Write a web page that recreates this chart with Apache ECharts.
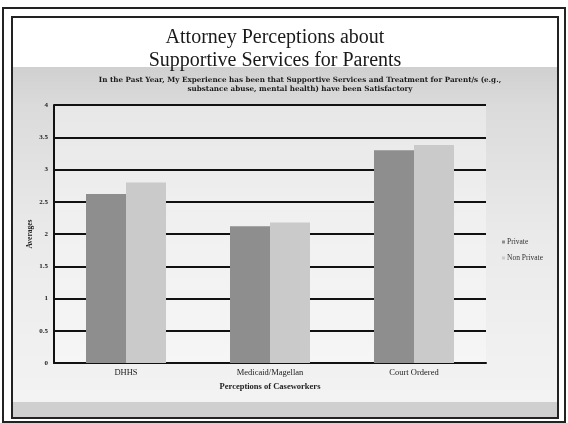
<!DOCTYPE html>
<html><head><meta charset="utf-8">
<script src="https://cdn.jsdelivr.net/npm/echarts@6/dist/echarts.min.js"></script>
<style>html,body{margin:0;padding:0;background:#fff;}#c{width:568px;height:423px;}</style>
</head><body><div id="c"></div>
<script>
var categories = ["DHHS", "Medicaid/Magellan", "Court Ordered"];
var privateValues = [2.62, 2.12, 3.30];
var nonPrivateValues = [2.80, 2.18, 3.38];
var yTicks = ["0", "0.5", "1", "1.5", "2", "2.5", "3", "3.5", "4"];

var chart = echarts.init(document.getElementById('c'), null, {renderer: 'canvas'});
var serif = '"Liberation Serif", "DejaVu Serif", serif';
var serif2 = '"DejaVu Serif", "Liberation Serif", serif';
chart.setOption({
  animation: false,
  backgroundColor: '#ffffff',
  graphic: [
    {type: 'rect', shape: {x: 12, y: 67, width: 546, height: 335}, z: -10,
      style: {fill: {type: 'linear', x: 0, y: 0, x2: 0, y2: 1, colorStops: [
        {offset: 0, color: '#d0d0d0'}, {offset: 0.12, color: '#dbdbdb'}, {offset: 0.5, color: '#eaeaea'}, {offset: 1, color: '#f3f3f3'}]}}},
    {type: 'rect', shape: {x: 54, y: 105, width: 432, height: 258}, z: -9, style: {fill: 'rgba(255,255,255,0.35)'}},
    {type: 'rect', shape: {x: 12, y: 402, width: 546, height: 15}, z: -10, style: {fill: '#cfcfcf'}},
    {type: 'rect', shape: {x: 3, y: 8, width: 562, height: 414}, style: {fill: 'none', stroke: '#222', lineWidth: 2}},
    {type: 'rect', shape: {x: 12, y: 17, width: 546, height: 401}, style: {fill: 'none', stroke: '#222', lineWidth: 2}}
  ],
  title: [
    {text: 'Attorney Perceptions about\nSupportive Services for Parents', left: 270, top: 21, textAlign: 'center',
      textStyle: {fontFamily: serif, fontSize: 20, fontWeight: 'normal', color: '#1a1a1a', lineHeight: 23}},
    {text: 'In the Past Year, My Experience has been that Supportive Services and Treatment for Parent/s (e.g.,\nsubstance abuse, mental health) have been Satisfactory', left: 295, top: 71, textAlign: 'center',
      textStyle: {fontFamily: serif2, fontSize: 7.2, fontWeight: 'bold', color: '#1a1a1a', lineHeight: 9}}
  ],
  legend: {
    orient: 'vertical', left: 497, top: 233, itemWidth: 3, itemHeight: 3, itemGap: 8,
    icon: 'rect',
    textStyle: {fontFamily: serif, fontSize: 7.5, color: '#333', padding: [0, 0, 0, -3]},
    data: ['Private', 'Non Private']
  },
  grid: {left: 54, top: 105, width: 432, height: 258, containLabel: false},
  xAxis: {
    type: 'category', data: categories,
    name: 'Perceptions of Caseworkers', nameLocation: 'middle', nameGap: 16,
    nameTextStyle: {fontFamily: serif, fontSize: 8.5, fontWeight: 'bold', color: '#222'},
    axisLine: {lineStyle: {color: '#111', width: 2}},
    axisTick: {show: false},
    axisLabel: {fontFamily: serif, fontSize: 8.5, color: '#222', margin: 5}
  },
  yAxis: {
    type: 'value', min: 0, max: 4, interval: 0.5,
    name: 'Averages', nameLocation: 'middle', nameGap: 20, nameMoveOverlap: false,
    nameTextStyle: {fontFamily: serif, fontSize: 7.5, fontWeight: 'bold', color: '#222'},
    axisLine: {show: true, lineStyle: {color: '#111', width: 2}},
    axisTick: {show: false},
    axisLabel: {fontFamily: serif, fontSize: 7, fontWeight: 'bold', color: '#222', margin: 6,
      formatter: function (v, i) { return yTicks[i]; }},
    splitLine: {lineStyle: {color: '#111', width: 2}}
  },
  series: [
    {name: 'Private', type: 'bar', data: privateValues, barWidth: 40, barGap: '0%',
      itemStyle: {color: '#8e8e8e'}},
    {name: 'Non Private', type: 'bar', data: nonPrivateValues, barWidth: 40,
      itemStyle: {color: '#cacaca'}}
  ]
});
</script></body></html>
